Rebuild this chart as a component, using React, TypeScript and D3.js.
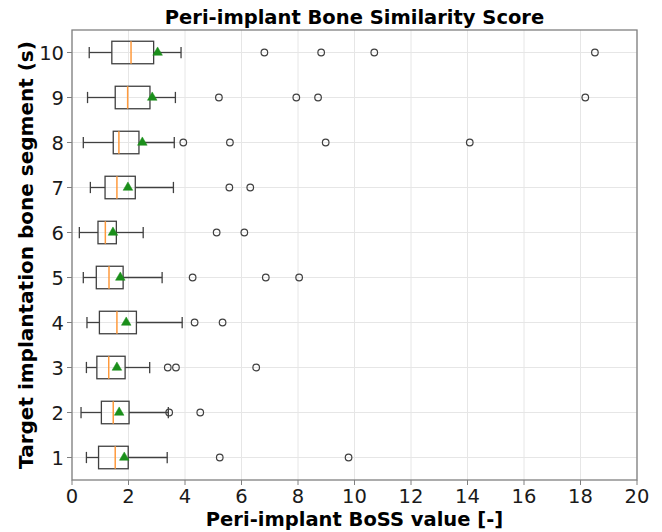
import React from "react";
import * as d3 from "d3";

const segments = [1, 2, 3, 4, 5, 6, 7, 8, 9, 10];
const whiskerLow = [0.51, 0.32, 0.51, 0.53, 0.4, 0.26, 0.65, 0.4, 0.55, 0.61];
const q1 = [0.94, 1.04, 0.88, 0.97, 0.86, 0.92, 1.17, 1.46, 1.53, 1.41];
const medians = [1.53, 1.46, 1.3, 1.59, 1.31, 1.18, 1.59, 1.66, 1.97, 2.09];
const q3 = [1.99, 2.02, 1.88, 2.28, 1.81, 1.57, 2.24, 2.37, 2.76, 2.89];
const whiskerHigh = [3.37, 3.41, 2.75, 3.9, 3.19, 2.52, 3.59, 3.62, 3.66, 3.86];
const means = [1.85, 1.67, 1.59, 1.92, 1.71, 1.45, 1.98, 2.49, 2.84, 3.03];
const outliers = [
  [5.23, 9.79],
  [3.44, 4.54],
  [3.39, 3.68, 6.52],
  [4.34, 5.33],
  [4.27, 6.86, 8.04],
  [5.12, 6.1],
  [5.57, 6.31],
  [3.94, 5.59, 8.98, 14.08],
  [5.2, 7.94, 8.71, 18.17],
  [6.81, 8.82, 10.7, 18.51],
];
const xTicks = [0, 2, 4, 6, 8, 10, 12, 14, 16, 18, 20];

const W = 662;
const H = 532;
const left = 72;
const right = 637;
const top = 30;
const bottom = 480;

export default function App() {
  const x = d3.scaleLinear().domain([0, 20]).range([left, right]);
  const y = d3.scaleLinear().domain([0.5, 10.5]).range([bottom, top]);
  const boxH = y(0) - y(0.5);
  const capH = boxH / 2;
  const font = "DejaVu Sans, sans-serif";
  const tri = d3.symbol().type(d3.symbolTriangle).size(40)();

  return (
    <svg width={W} height={H} style={{ position: "absolute", left: 0, top: 0 }}>
      <rect x={0} y={0} width={W} height={H} fill="#fff" />
      {/* grid */}
      {xTicks.map((t) => (
        <line key={"gx" + t} x1={x(t)} x2={x(t)} y1={top} y2={bottom} stroke="#e6e6e6" strokeWidth={1} />
      ))}
      {segments.map((s) => (
        <line key={"gy" + s} x1={left} x2={right} y1={y(s)} y2={y(s)} stroke="#e6e6e6" strokeWidth={1} />
      ))}
      {/* boxes */}
      {segments.map((s, i) => {
        const cy = y(s);
        return (
          <g key={"b" + s}>
            <line x1={x(whiskerLow[i])} x2={x(q1[i])} y1={cy} y2={cy} stroke="#404040" strokeWidth={1.3} />
            <line x1={x(q3[i])} x2={x(whiskerHigh[i])} y1={cy} y2={cy} stroke="#404040" strokeWidth={1.3} />
            <line x1={x(whiskerLow[i])} x2={x(whiskerLow[i])} y1={cy - capH / 2} y2={cy + capH / 2} stroke="#404040" strokeWidth={1.3} />
            <line x1={x(whiskerHigh[i])} x2={x(whiskerHigh[i])} y1={cy - capH / 2} y2={cy + capH / 2} stroke="#404040" strokeWidth={1.3} />
            <rect x={x(q1[i])} y={cy - boxH / 2} width={x(q3[i]) - x(q1[i])} height={boxH} fill="none" stroke="#404040" strokeWidth={1.3} />
            <line x1={x(medians[i])} x2={x(medians[i])} y1={cy - boxH / 2} y2={cy + boxH / 2} stroke="#ff9a3c" strokeWidth={1.5} />
            <path d={tri ?? ""} transform={`translate(${x(means[i])},${cy})`} fill="#1a8f1a" stroke="#1a8f1a" strokeWidth={0.5} />
            {outliers[i].map((o, j) => (
              <circle key={j} cx={x(o)} cy={cy} r={3.3} fill="none" stroke="#404040" strokeWidth={1.2} />
            ))}
          </g>
        );
      })}
      {/* frame */}
      <rect x={left} y={top} width={right - left} height={bottom - top} fill="none" stroke="#808080" strokeWidth={1.3} />
      {/* x ticks */}
      {xTicks.map((t) => (
        <g key={"xt" + t}>
          <line x1={x(t)} x2={x(t)} y1={bottom} y2={bottom + 5} stroke="#808080" strokeWidth={1} />
          <text x={x(t)} y={bottom + 23} textAnchor="middle" fontFamily={font} fontSize={19.5} fill="#1a1a1a">
            {t}
          </text>
        </g>
      ))}
      {/* y ticks */}
      {segments.map((s) => (
        <g key={"yt" + s}>
          <line x1={left - 5} x2={left} y1={y(s)} y2={y(s)} stroke="#808080" strokeWidth={1} />
          <text x={left - 8} y={y(s)} dy="0.36em" textAnchor="end" fontFamily={font} fontSize={19.5} fill="#1a1a1a">
            {s}
          </text>
        </g>
      ))}
      <text x={(left + right) / 2} y={24} textAnchor="middle" fontFamily={font} fontSize={19.5} fontWeight="bold" fill="#000">
        Peri-implant Bone Similarity Score
      </text>
      <text x={(left + right) / 2} y={526} textAnchor="middle" fontFamily={font} fontSize={19.5} fontWeight="bold" fill="#000">
        Peri-implant BoSS value [-]
      </text>
      <text
        transform={`translate(${26},${(top + bottom) / 2}) rotate(-90)`}
        textAnchor="middle"
        dy="0.36em"
        fontFamily={font}
        fontSize={20}
        fontWeight="bold"
        fill="#000"
      >
        Target implantation bone segment (s)
      </text>
    </svg>
  );
}
